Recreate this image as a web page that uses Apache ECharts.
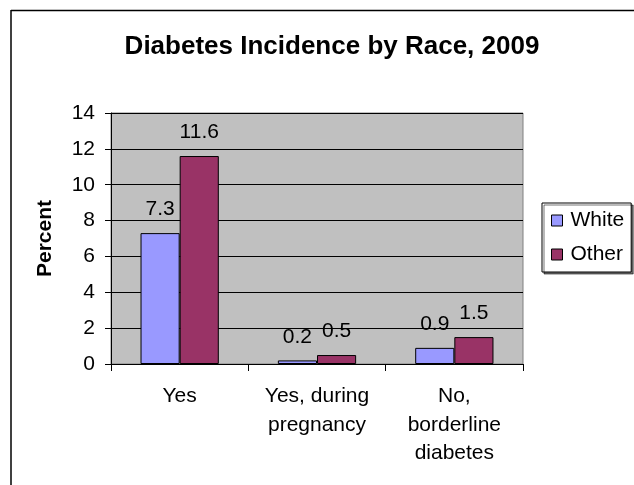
<!DOCTYPE html>
<html><head><meta charset="utf-8">
<script src="https://cdn.jsdelivr.net/npm/echarts@6/dist/echarts.min.js"></script>
<style>html,body{margin:0;padding:0;background:#fff}#c{width:634px;height:485px}</style>
</head><body><div id="c"></div>
<script>
const categories = ['Yes', 'Yes, during\npregnancy', 'No,\nborderline\ndiabetes'];
const whiteValues = [7.3, 0.2, 0.9];
const otherValues = [11.6, 0.5, 1.5];
const seriesNames = ['White', 'Other'];
const titleText = 'Diabetes Incidence by Race, 2009';
const yAxisName = 'Percent';

const FONT = '"Liberation Sans", Arial, sans-serif';
const chart = echarts.init(document.getElementById('c'), null, {renderer: 'canvas'});
const lbl = {show: true, position: 'top', distance: 13, fontSize: 21, color: '#000', fontFamily: FONT};
chart.setOption({
  animation: false,
  backgroundColor: '#fff',
  title: {
    text: titleText, left: 327, textAlign: 'center', top: 29,
    textStyle: {fontSize: 26, fontWeight: 'bold', color: '#000', fontFamily: FONT}
  },
  graphic: [
    {type: 'line', shape: {x1: 11, y1: 10.5, x2: 634, y2: 10.5}, style: {stroke: '#000', lineWidth: 1.5}},
    {type: 'line', shape: {x1: 11, y1: 10, x2: 11, y2: 485}, style: {stroke: '#000', lineWidth: 1.5}}
  ],
  legend: {
    orient: 'vertical', left: 542, top: 203,
    data: seriesNames,
    icon: 'rect', itemWidth: 11, itemHeight: 11, itemGap: 13,
    padding: [7, 7, 7, 9],
    borderColor: '#000', borderWidth: 1,
    shadowColor: 'rgba(0,0,0,0.55)', shadowOffsetX: 2, shadowOffsetY: 2, shadowBlur: 0,
    backgroundColor: '#fff',
    textStyle: {fontSize: 21, color: '#000', fontFamily: FONT, padding: [0, 0, 0, 3]},
    itemStyle: {borderColor: '#000', borderWidth: 1}
  },
  grid: {
    left: 111, top: 113, right: 111, bottom: 121,
    show: true, backgroundColor: '#C0C0C0', borderColor: '#808080', borderWidth: 1
  },
  xAxis: {
    type: 'category', data: categories,
    axisLine: {lineStyle: {color: '#000', width: 1}},
    axisTick: {show: true, length: 7, lineStyle: {color: '#000'}},
    axisLabel: {interval: 0, fontSize: 21, lineHeight: 28.5, color: '#000', fontFamily: FONT, margin: 18}
  },
  yAxis: {
    type: 'value', min: 0, max: 14, interval: 2,
    name: yAxisName, nameLocation: 'middle', nameGap: 55, nameRotate: 90,
    nameTextStyle: {fontSize: 21, fontWeight: 'bold', color: '#000', fontFamily: FONT},
    axisLine: {show: true, lineStyle: {color: '#000', width: 1}},
    axisTick: {show: true, length: 6, lineStyle: {color: '#000'}},
    axisLabel: {fontSize: 21, color: '#000', fontFamily: FONT, margin: 16},
    splitLine: {show: true, lineStyle: {color: '#000', width: 1}}
  },
  series: [
    {name: seriesNames[0], type: 'bar', data: whiteValues, barGap: '0%', barCategoryGap: '43%',
     itemStyle: {color: '#9999FF', borderColor: '#000', borderWidth: 1}, label: lbl},
    {name: seriesNames[1], type: 'bar', data: otherValues, barGap: '0%', barCategoryGap: '43%',
     itemStyle: {color: '#993366', borderColor: '#000', borderWidth: 1}, label: lbl}
  ]
});
</script></body></html>
